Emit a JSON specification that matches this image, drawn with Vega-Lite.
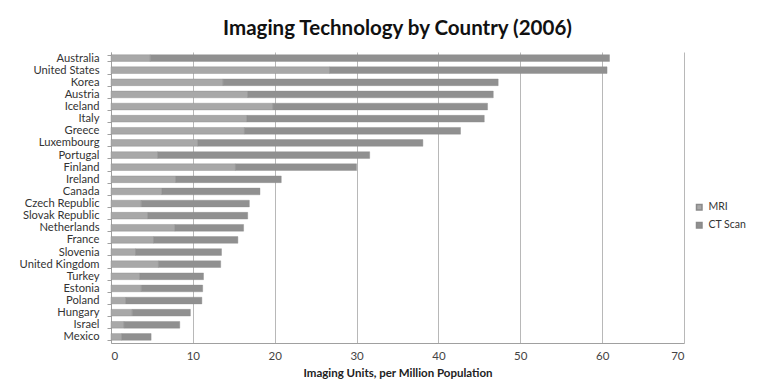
{
  "$schema": "https://vega.github.io/schema/vega-lite/v6.json",
  "autosize": {"type": "none"},
  "padding": {"left": 111, "top": 52, "right": 81, "bottom": 47},
  "width": 573,
  "height": 291,
  "background": "white",
  "title": {
    "text": "Imaging Technology by Country (2006)",
    "font": "Lato",
    "fontSize": 20.5,
    "fontWeight": "bold",
    "color": "#111111",
    "anchor": "middle",
    "offset": 7
  },
  "data": {
    "values": [
      {"country": "Australia", "type": "MRI", "value": 4.8},
      {"country": "Australia", "type": "CT Scan", "value": 56.1},
      {"country": "United States", "type": "MRI", "value": 26.7},
      {"country": "United States", "type": "CT Scan", "value": 33.9},
      {"country": "Korea", "type": "MRI", "value": 13.7},
      {"country": "Korea", "type": "CT Scan", "value": 33.6},
      {"country": "Austria", "type": "MRI", "value": 16.7},
      {"country": "Austria", "type": "CT Scan", "value": 30.0},
      {"country": "Iceland", "type": "MRI", "value": 19.8},
      {"country": "Iceland", "type": "CT Scan", "value": 26.2},
      {"country": "Italy", "type": "MRI", "value": 16.6},
      {"country": "Italy", "type": "CT Scan", "value": 29.0},
      {"country": "Greece", "type": "MRI", "value": 16.3},
      {"country": "Greece", "type": "CT Scan", "value": 26.4},
      {"country": "Luxembourg", "type": "MRI", "value": 10.6},
      {"country": "Luxembourg", "type": "CT Scan", "value": 27.5},
      {"country": "Portugal", "type": "MRI", "value": 5.7},
      {"country": "Portugal", "type": "CT Scan", "value": 25.9},
      {"country": "Finland", "type": "MRI", "value": 15.2},
      {"country": "Finland", "type": "CT Scan", "value": 14.8},
      {"country": "Ireland", "type": "MRI", "value": 7.9},
      {"country": "Ireland", "type": "CT Scan", "value": 12.9},
      {"country": "Canada", "type": "MRI", "value": 6.2},
      {"country": "Canada", "type": "CT Scan", "value": 12.0},
      {"country": "Czech Republic", "type": "MRI", "value": 3.7},
      {"country": "Czech Republic", "type": "CT Scan", "value": 13.2},
      {"country": "Slovak Republic", "type": "MRI", "value": 4.5},
      {"country": "Slovak Republic", "type": "CT Scan", "value": 12.2},
      {"country": "Netherlands", "type": "MRI", "value": 7.8},
      {"country": "Netherlands", "type": "CT Scan", "value": 8.4},
      {"country": "France", "type": "MRI", "value": 5.2},
      {"country": "France", "type": "CT Scan", "value": 10.3},
      {"country": "Slovenia", "type": "MRI", "value": 3.0},
      {"country": "Slovenia", "type": "CT Scan", "value": 10.5},
      {"country": "United Kingdom", "type": "MRI", "value": 5.8},
      {"country": "United Kingdom", "type": "CT Scan", "value": 7.6},
      {"country": "Turkey", "type": "MRI", "value": 3.5},
      {"country": "Turkey", "type": "CT Scan", "value": 7.8},
      {"country": "Estonia", "type": "MRI", "value": 3.7},
      {"country": "Estonia", "type": "CT Scan", "value": 7.5},
      {"country": "Poland", "type": "MRI", "value": 1.8},
      {"country": "Poland", "type": "CT Scan", "value": 9.3},
      {"country": "Hungary", "type": "MRI", "value": 2.6},
      {"country": "Hungary", "type": "CT Scan", "value": 7.1},
      {"country": "Israel", "type": "MRI", "value": 1.6},
      {"country": "Israel", "type": "CT Scan", "value": 6.8},
      {"country": "Mexico", "type": "MRI", "value": 1.3},
      {"country": "Mexico", "type": "CT Scan", "value": 3.6}
    ]
  },
  "transform": [
    {"calculate": "datum.type === 'MRI' ? 0 : 1", "as": "stackOrder"}
  ],
  "mark": {"type": "bar", "stroke": "#8a8a8a", "strokeWidth": 0.4},
  "encoding": {
    "y": {
      "field": "country",
      "type": "nominal",
      "sort": {"op": "sum", "field": "value", "order": "descending"},
      "scale": {"paddingInner": 0.45, "paddingOuter": 0.225},
      "axis": {
        "title": null,
        "tickBand": "extent",
        "tickSize": 4,
        "tickColor": "#a0a0a0",
        "domainColor": "#a0a0a0",
        "labelFont": "Lato",
        "labelFontSize": 11.2,
        "labelColor": "#333333",
        "labelPadding": 8,
        "grid": false
      }
    },
    "x": {
      "field": "value",
      "type": "quantitative",
      "stack": "zero",
      "scale": {"domain": [0, 70], "nice": false},
      "axis": {
        "values": [0, 10, 20, 30, 40, 50, 60, 70],
        "title": "Imaging Units, per Million Population",
        "titleFont": "Lato",
        "titleFontSize": 11.5,
        "titleFontWeight": "bold",
        "titleColor": "#222222",
        "titlePadding": 6,
        "grid": true,
        "gridColor": "#b8b8b8",
        "gridWidth": 1,
        "ticks": false,
        "domainColor": "#a0a0a0",
        "labelFont": "Lato",
        "labelFontSize": 11.5,
        "labelColor": "#444444",
        "labelPadding": 7
      }
    },
    "color": {
      "field": "type",
      "type": "nominal",
      "scale": {"domain": ["MRI", "CT Scan"], "range": ["#a8a8a8", "#909090"]},
      "legend": {
        "title": null,
        "orient": "none",
        "legendX": 583,
        "legendY": 150,
        "symbolType": "square",
        "symbolSize": 30,
        "labelFont": "Lato",
        "labelFontSize": 10.5,
        "labelColor": "#333333",
        "rowPadding": 6
      }
    },
    "order": {"field": "stackOrder", "type": "quantitative"}
  },
  "config": {
    "view": {"stroke": null}
  }
}
